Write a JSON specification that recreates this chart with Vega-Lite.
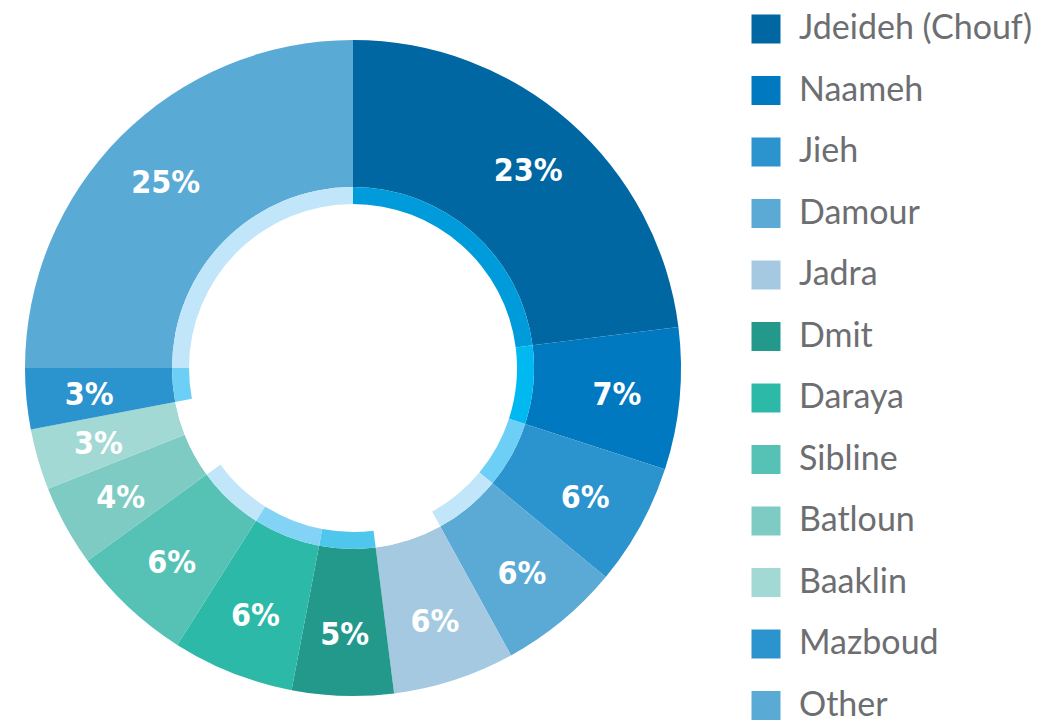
{
  "$schema": "https://vega.github.io/schema/vega-lite/v6.json",
  "width": 706,
  "height": 736,
  "autosize": {"type": "none"},
  "padding": {"left": 0, "top": 0, "right": 335, "bottom": 0},
  "background": "#ffffff",
  "view": {"stroke": null},
  "data": {
    "values": [
      {"rank": 1, "name": "Jdeideh (Chouf)", "share": 0.23},
      {"rank": 2, "name": "Naameh", "share": 0.07},
      {"rank": 3, "name": "Jieh", "share": 0.06},
      {"rank": 4, "name": "Damour", "share": 0.06},
      {"rank": 5, "name": "Jadra", "share": 0.06},
      {"rank": 6, "name": "Dmit", "share": 0.05},
      {"rank": 7, "name": "Daraya", "share": 0.06},
      {"rank": 8, "name": "Sibline", "share": 0.06},
      {"rank": 9, "name": "Batloun", "share": 0.04},
      {"rank": 10, "name": "Baaklin", "share": 0.03},
      {"rank": 11, "name": "Mazboud", "share": 0.03},
      {"rank": 12, "name": "Other", "share": 0.25}
    ]
  },
  "encoding": {
    "theta": {"field": "share", "type": "quantitative", "stack": true},
    "order": {"field": "rank", "type": "quantitative"}
  },
  "layer": [
    {
      "mark": {"type": "arc", "innerRadius": 181, "outerRadius": 328},
      "encoding": {
        "color": {
          "field": "name",
          "type": "nominal",
          "sort": null,
          "scale": {
            "domain": ["Jdeideh (Chouf)", "Naameh", "Jieh", "Damour", "Jadra", "Dmit", "Daraya", "Sibline", "Batloun", "Baaklin", "Mazboud", "Other"],
            "range": ["#0067a2", "#0079c1", "#2b93cd", "#5aaad5", "#a5c9e1", "#22998a", "#2cb9a8", "#55c2b5", "#7ecbc3", "#a2d9d4", "#2b93cd", "#5aaad6"]
          },
          "legend": {
            "title": null,
            "orient": "none",
            "legendX": 749,
            "legendY": 12,
            "symbolType": "square",
            "symbolSize": 841,
            "symbolStrokeWidth": 0,
            "labelFont": "Lato",
            "labelFontSize": 34,
            "labelColor": "#6d6e71",
            "labelOffset": 16,
            "rowPadding": 27.5,
            "padding": 0,
            "labelLimit": 400
          }
        }
      }
    },
    {
      "mark": {"type": "arc", "innerRadius": 164, "outerRadius": 181},
      "encoding": {
        "color": {
          "field": "name",
          "type": "nominal",
          "sort": null,
          "scale": {
            "domain": ["Jdeideh (Chouf)", "Naameh", "Jieh", "Damour", "Jadra", "Dmit", "Daraya", "Sibline", "Batloun", "Baaklin", "Mazboud", "Other"],
            "range": ["#009bdb", "#00b9f1", "#6dcff6", "#c2e6f9", "#ffffff", "#4fc6ec", "#82d3f5", "#c2e6f9", "#ffffff", "#ffffff", "#6dcff6", "#c2e6f9"]
          },
          "legend": null
        }
      }
    },
    {
      "mark": {"type": "text", "radius": 265, "font": "DejaVu Sans Condensed, sans-serif", "fontWeight": "bold", "fontSize": 32, "fill": "#ffffff", "align": "center", "baseline": "middle", "dy": 2},
      "encoding": {
        "text": {"field": "share", "type": "quantitative", "format": ".0%"}
      }
    }
  ],
  "resolve": {"scale": {"color": "independent"}}
}
